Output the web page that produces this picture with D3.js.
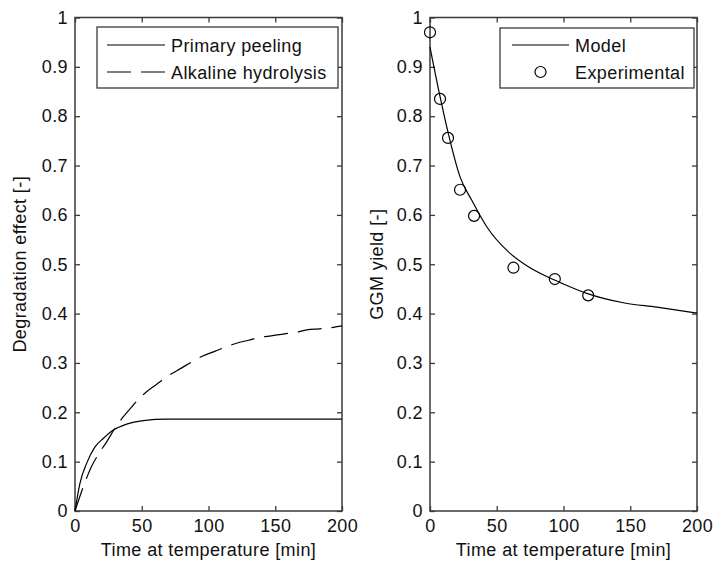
<!DOCTYPE html>
<html>
<head>
<meta charset="utf-8">
<script src="https://cdn.jsdelivr.net/npm/d3@7"></script>
<style>
  html, body { margin: 0; padding: 0; background: #fff; }
  svg { display: block; }
  text { font-family: "Liberation Sans", Arial, sans-serif; fill: #111; }
</style>
</head>
<body>
<svg id="fig" width="713" height="564"></svg>
<script>
// ---- data ----
const xTicks = [0, 50, 100, 150, 200];
const yTicks = [0, 0.1, 0.2, 0.3, 0.4, 0.5, 0.6, 0.7, 0.8, 0.9, 1];

// left panel: degradation effects
const peelT = [0, 3.7, 8.8, 15, 21.2, 28.7, 38.7, 51.2, 68.7, 100, 150, 200];
const peelY = [0, 0.056, 0.097, 0.130, 0.147, 0.164, 0.176, 0.183, 0.186, 0.186, 0.186, 0.186];
const hydroT = [0, 6.2, 12, 18.7, 23.7, 30, 36.2, 42.5, 50, 61.2, 68.7, 80, 87.4, 94.9, 105, 113.6, 121, 130, 138.6, 147, 157, 166, 173.6, 183, 191, 200];
const hydroY = [0, 0.049, 0.088, 0.120, 0.140, 0.168, 0.191, 0.211, 0.233, 0.257, 0.272, 0.290, 0.302, 0.313, 0.324, 0.333, 0.340, 0.346, 0.352, 0.355, 0.359, 0.362, 0.367, 0.369, 0.371, 0.375];

// right panel: GGM yield
const modelT = [0, 7.5, 13.7, 22.5, 31.2, 42.5, 60, 73.7, 92.4, 100, 117.4, 144.8, 170, 200];
const modelY = [0.940, 0.840, 0.765, 0.677, 0.630, 0.576, 0.522, 0.495, 0.469, 0.460, 0.441, 0.422, 0.413, 0.401];
const expT = [0, 7.5, 13.5, 22.5, 33, 62.5, 93.5, 118.5];
const expY = [0.970, 0.835, 0.756, 0.651, 0.598, 0.493, 0.470, 0.437];

const svg = d3.select("#fig");
const FS = 18;
const axisColor = "#3a3a3a";
const plotTop = 17.5, plotBottom = 511;

function zip(a, b) { return a.map((v, i) => [v, b[i]]); }

function panel(x0, x1, ylabel, ylabelX) {
  const x = d3.scaleLinear().domain([0, 200]).range([x0, x1]);
  const y = d3.scaleLinear().domain([0, 1]).range([plotBottom, plotTop]);
  const g = svg.append("g");

  // tick marks on all four sides (pointing inward)
  const ax = [
    [d3.axisBottom(x).tickValues(xTicks).tickSize(-5), `translate(0,${plotBottom})`, true],
    [d3.axisTop(x).tickValues(xTicks).tickSize(-5), `translate(0,${plotTop})`, false],
    [d3.axisLeft(y).tickValues(yTicks).tickSize(-5), `translate(${x0},0)`, true],
    [d3.axisRight(y).tickValues(yTicks).tickSize(-5), `translate(${x1},0)`, false]
  ];
  ax.forEach(([a, tr, labels]) => {
    const ag = g.append("g").attr("transform", tr).call(a.tickFormat(d => d3.format("")(d)));
    ag.select(".domain").remove();
    ag.selectAll(".tick line").attr("stroke", axisColor).attr("stroke-width", 1.3);
    if (!labels) ag.selectAll(".tick text").remove();
    else ag.selectAll(".tick text")
      .attr("font-size", FS).attr("font-family", "Liberation Sans, Arial, sans-serif")
      .attr("fill", "#111").style("letter-spacing", "0.4px");
  });

  // frame
  g.append("rect").attr("x", x0).attr("y", plotTop).attr("width", x1 - x0).attr("height", plotBottom - plotTop)
    .attr("fill", "none").attr("stroke", axisColor).attr("stroke-width", 1.5);

  // x title
  g.append("text").attr("x", (x0 + x1) / 2).attr("y", 556).attr("text-anchor", "middle")
    .attr("font-size", FS).style("letter-spacing", "0.4px").text("Time at temperature [min]");
  // y title
  g.append("text").attr("transform", `translate(${ylabelX},${(plotTop + plotBottom) / 2}) rotate(-90)`)
    .attr("text-anchor", "middle").attr("font-size", FS).style("letter-spacing", "0.4px").text(ylabel);

  return { g, x, y };
}

const L = panel(75, 342, "Degradation effect [-]", 26);
const R = panel(430, 697, "GGM yield [-]", 383);

// tick label offsets
svg.selectAll(".tick text").each(function() {
  const t = d3.select(this);
  if (t.attr("x") !== null && +t.attr("x") < 0) t.attr("x", -7);
  if (t.attr("y") !== null && +t.attr("y") > 0) t.attr("y", 8);
});

// left curves
const lineL = d3.line().x(d => L.x(d[0])).y(d => L.y(d[1])).curve(d3.curveMonotoneX);
L.g.append("path").datum(zip(peelT, peelY)).attr("d", lineL)
  .attr("fill", "none").attr("stroke", "#000").attr("stroke-width", 1.2);
L.g.append("path").datum(zip(hydroT, hydroY)).attr("d", lineL)
  .attr("fill", "none").attr("stroke", "#000").attr("stroke-width", 1.2).attr("stroke-dasharray", "24,10");

// right curve + points
const lineR = d3.line().x(d => R.x(d[0])).y(d => R.y(d[1])).curve(d3.curveMonotoneX);
R.g.append("path").datum(zip(modelT, modelY)).attr("d", lineR)
  .attr("fill", "none").attr("stroke", "#000").attr("stroke-width", 1.2);
R.g.selectAll("circle.exp").data(zip(expT, expY)).enter().append("circle").attr("class", "exp")
  .attr("cx", d => R.x(d[0])).attr("cy", d => R.y(d[1])).attr("r", 5.5)
  .attr("fill", "none").attr("stroke", "#000").attr("stroke-width", 1.2);

// legends
function legend(bx0, bx1, by0, by1, items) {
  const g = svg.append("g");
  g.append("rect").attr("x", bx0).attr("y", by0).attr("width", bx1 - bx0).attr("height", by1 - by0)
    .attr("fill", "#fff").attr("stroke", axisColor).attr("stroke-width", 1.3);
  items.forEach(it => {
    if (it.type === "line") {
      g.append("line").attr("x1", it.sx0).attr("x2", it.sx1).attr("y1", it.cy).attr("y2", it.cy)
        .attr("stroke", "#000").attr("stroke-width", 1.2).attr("stroke-dasharray", it.dash || null);
    } else {
      g.append("circle").attr("cx", (it.sx0 + it.sx1) / 2).attr("cy", it.cy).attr("r", 5.5)
        .attr("fill", "none").attr("stroke", "#000").attr("stroke-width", 1.2);
    }
    g.append("text").attr("x", it.tx).attr("y", it.cy + 6.5).attr("font-size", FS)
      .style("letter-spacing", "0.4px").text(it.label);
  });
}
legend(97, 338, 27, 88, [
  { type: "line", sx0: 107, sx1: 165, cy: 45, tx: 171, label: "Primary peeling" },
  { type: "line", sx0: 107, sx1: 165, cy: 72, tx: 171, label: "Alkaline hydrolysis", dash: "24,10" }
]);
legend(500, 694, 28, 88, [
  { type: "line", sx0: 512, sx1: 569, cy: 45, tx: 575, label: "Model" },
  { type: "marker", sx0: 512, sx1: 569, cy: 72, tx: 575, label: "Experimental" }
]);
</script>
</body>
</html>
